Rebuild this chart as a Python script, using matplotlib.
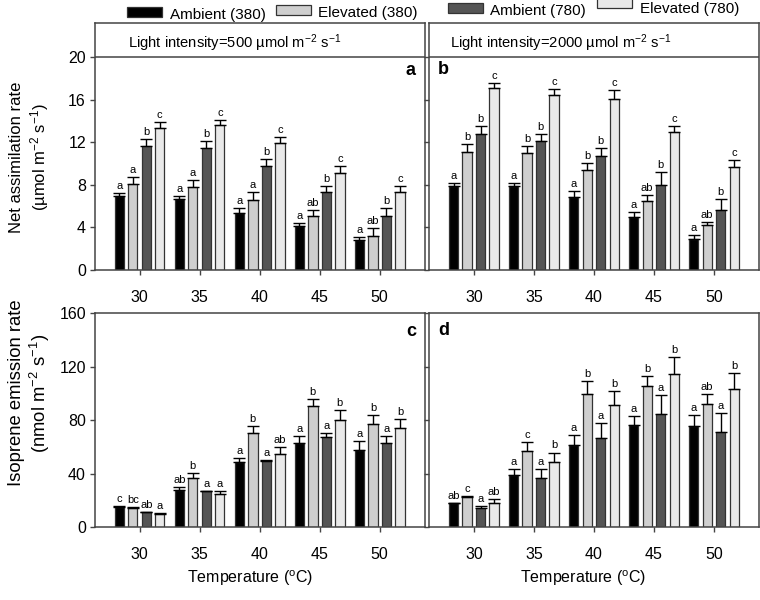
import numpy as np
import matplotlib
matplotlib.use('Agg')
import matplotlib.pyplot as plt
from matplotlib.patches import Rectangle

plt.rcParams['font.family'] = ['Liberation Sans', 'DejaVu Sans']
plt.rcParams['mathtext.fontset'] = 'custom'
plt.rcParams['mathtext.rm'] = 'Liberation Sans'
plt.rcParams['mathtext.it'] = 'Liberation Sans:italic'
plt.rcParams['mathtext.bf'] = 'Liberation Sans:bold'

# temperatures on the x axis
temps = [30, 35, 40, 45, 50]
series = ['Ambient (380)', 'Elevated (380)', 'Ambient (780)', 'Elevated (780)']
colors = ['#000000', '#cfcfcf', '#555555', '#e9e9e9']

# panel a: net assimilation, 500 light (rows = series)
a_mean = [[7.0, 6.7, 5.4, 4.1, 2.8],
          [8.1, 7.8, 6.6, 5.1, 3.2],
          [11.7, 11.5, 9.8, 7.3, 5.1],
          [13.4, 13.6, 11.9, 9.1, 7.3]]
a_err = [[0.25, 0.28, 0.44, 0.28, 0.28],
         [0.65, 0.66, 0.72, 0.53, 0.72],
         [0.65, 0.66, 0.66, 0.57, 0.72],
         [0.55, 0.53, 0.63, 0.66, 0.63]]
a_sig = [['a', 'a', 'a', 'a', 'a'],
         ['a', 'a', 'a', 'ab', 'ab'],
         ['b', 'b', 'b', 'b', 'b'],
         ['c', 'c', 'c', 'c', 'c']]

# panel b: net assimilation, 2000 light
b_mean = [[7.9, 7.9, 6.9, 5.0, 2.9],
          [11.1, 11.0, 9.4, 6.5, 4.2],
          [12.8, 12.1, 10.7, 8.0, 5.6],
          [17.1, 16.5, 16.1, 13.0, 9.7]]
b_err = [[0.28, 0.31, 0.56, 0.47, 0.37],
         [0.75, 0.69, 0.69, 0.56, 0.31],
         [0.72, 0.69, 0.81, 1.19, 1.06],
         [0.47, 0.53, 0.84, 0.56, 0.66]]
b_sig = [['a', 'a', 'a', 'a', 'a'],
         ['b', 'b', 'b', 'ab', 'ab'],
         ['b', 'b', 'b', 'b', 'b'],
         ['c', 'c', 'c', 'c', 'c']]

# panel c: isoprene emission, 500 light
c_mean = [[15.4, 27.9, 48.5, 63.2, 57.7],
          [14.2, 37.1, 70.6, 90.3, 77.4],
          [11.2, 26.9, 49.5, 67.2, 62.7],
          [9.7, 25.1, 54.7, 80.3, 74.4]]
c_err = [[0.8, 2.0, 3.5, 5.2, 7.0],
         [0.7, 3.2, 4.7, 5.5, 6.2],
         [0.5, 0.5, 0.5, 3.5, 5.7],
         [1.0, 2.2, 5.2, 7.5, 6.2]]
c_sig = [['c', 'ab', 'a', 'a', 'a'],
         ['bc', 'b', 'b', 'b', 'b'],
         ['ab', 'a', 'a', 'a', 'a'],
         ['a', 'a', 'ab', 'b', 'b']]

# panel d: isoprene emission, 2000 light
d_mean = [[17.9, 39.0, 61.3, 76.4, 75.4],
          [22.3, 57.3, 99.8, 105.2, 92.3],
          [14.4, 37.0, 66.5, 84.4, 71.5],
          [18.1, 49.1, 91.6, 114.6, 103.2]]
d_err = [[0.5, 4.5, 7.4, 6.7, 8.2],
         [1.0, 6.5, 9.4, 7.7, 6.9],
         [1.5, 6.4, 11.2, 14.1, 14.1],
         [3.2, 6.7, 10.4, 12.4, 11.9]]
d_sig = [['ab', 'a', 'a', 'a', 'a'],
         ['c', 'c', 'b', 'b', 'ab'],
         ['a', 'a', 'a', 'a', 'a'],
         ['ab', 'b', 'b', 'b', 'b']]

W, H = 760, 600
fig = plt.figure(figsize=(W / 100, H / 100), dpi=100)


def px(x0, y0, x1, y1):
    # pixel box (top-left origin) -> figure fraction rect
    return [x0 / W, 1 - y1 / H, (x1 - x0) / W, (y1 - y0) / H]


spine_col = '#444444'
x = np.arange(len(temps))
width = 0.155
step = 0.225


def draw_panel(ax, mean, err, sig, ymax, yticks, letter, letter_left, letter_y, show_ylabels):
    for i in range(4):
        xs = x + (i - 1.5) * step
        ax.bar(xs, mean[i], width, color=colors[i], edgecolor='#333333', linewidth=0.9, zorder=2)
        ax.errorbar(xs, mean[i], yerr=[np.zeros(len(temps)), err[i]], fmt='none',
                    ecolor='black', elinewidth=1.0, capsize=4.5, capthick=1.0, zorder=3)
        for j in range(len(temps)):
            ax.annotate(sig[i][j], (xs[j], mean[i][j] + err[i][j]), xytext=(0, 1.5),
                        textcoords='offset points', ha='center', va='bottom', fontsize=8)
    ax.set_xlim(-0.742, 4.75)
    ax.set_ylim(0, ymax)
    ax.set_xticks(x)
    ax.set_xticklabels([str(t) for t in temps])
    ax.set_yticks(yticks)
    if not show_ylabels:
        ax.set_yticklabels([])
    ax.tick_params(direction='out', length=3.5, width=1, colors=spine_col,
                   labelcolor='black', labelsize=11.5)
    ax.tick_params(axis='x', pad=11)
    ax.tick_params(axis='y', pad=3)
    for s in ax.spines.values():
        s.set_color(spine_col)
        s.set_linewidth(1.1)
    if letter_left:
        ax.text(0.027, letter_y, letter, transform=ax.transAxes, ha='left', va='top',
                fontsize=13, fontweight='bold')
    else:
        ax.text(0.973, letter_y, letter, transform=ax.transAxes, ha='right', va='top',
                fontsize=13, fontweight='bold')


ax_a = fig.add_axes(px(95, 22.7, 424.7, 270))
ax_b = fig.add_axes(px(429.3, 22.7, 759, 270))
ax_c = fig.add_axes(px(95, 313, 424.7, 527.3))
ax_d = fig.add_axes(px(429.3, 313, 759, 527.3))

draw_panel(ax_a, a_mean, a_err, a_sig, 23.26, [0, 4, 8, 12, 16, 20], 'a', False, 0.84, True)
draw_panel(ax_b, b_mean, b_err, b_sig, 23.26, [0, 4, 8, 12, 16, 20], 'b', True, 0.845, False)
draw_panel(ax_c, c_mean, c_err, c_sig, 160, [0, 40, 80, 120, 160], 'c', False, 0.955, True)
draw_panel(ax_d, d_mean, d_err, d_sig, 160, [0, 40, 80, 120, 160], 'd', True, 0.96, False)

# header strip for light intensity
for ax, lab, tx in [(ax_a, '500', 0.1), (ax_b, '2000', 0.063)]:
    ax.axhline(20, color=spine_col, linewidth=1.1, zorder=4)
    ax.text(tx, 20.3, 'Light intensity=' + lab + r' µmol m$^{-2}$ s$^{-1}$',
            transform=ax.get_yaxis_transform(), fontsize=10.6, va='bottom', ha='left')

# axis titles
fig.text(17 / W, 1 - 157 / H, 'Net assimilation rate', rotation=90, ha='center', va='center', fontsize=12)
fig.text(40 / W, 1 - 157 / H, r'(µmol m$^{-2}$ s$^{-1}$)', rotation=90, ha='center', va='center', fontsize=12)
fig.text(17 / W, 1 - 393 / H, 'Isoprene emission rate', rotation=90, ha='center', va='center', fontsize=13.3)
fig.text(40 / W, 1 - 393 / H, r'(nmol m$^{-2}$ s$^{-1}$)', rotation=90, ha='center', va='center', fontsize=13.3)
fig.text(250 / W, 1 - 578 / H, r'Temperature ($^{\mathrm{o}}$C)', ha='center', va='center', fontsize=11.5)
fig.text(583 / W, 1 - 578 / H, r'Temperature ($^{\mathrm{o}}$C)', ha='center', va='center', fontsize=11.5)

# legend, staggered along the top
leg_pos = [(127, 7, 170, 15), (276, 5, 318, 13), (448, 3, 490, 10.5), (597, -2, 640, 8.5)]
for (bx, by, tx, ty), name, col in zip(leg_pos, series, colors):
    fig.add_artist(Rectangle((bx / W, 1 - (by + 10) / H), 35 / W, 10 / H,
                             transform=fig.transFigure, facecolor=col, edgecolor='#333333',
                             linewidth=0.9))
    fig.text(tx / W, 1 - ty / H, name, ha='left', va='center', fontsize=11)

fig.savefig('out.png', dpi=100)
